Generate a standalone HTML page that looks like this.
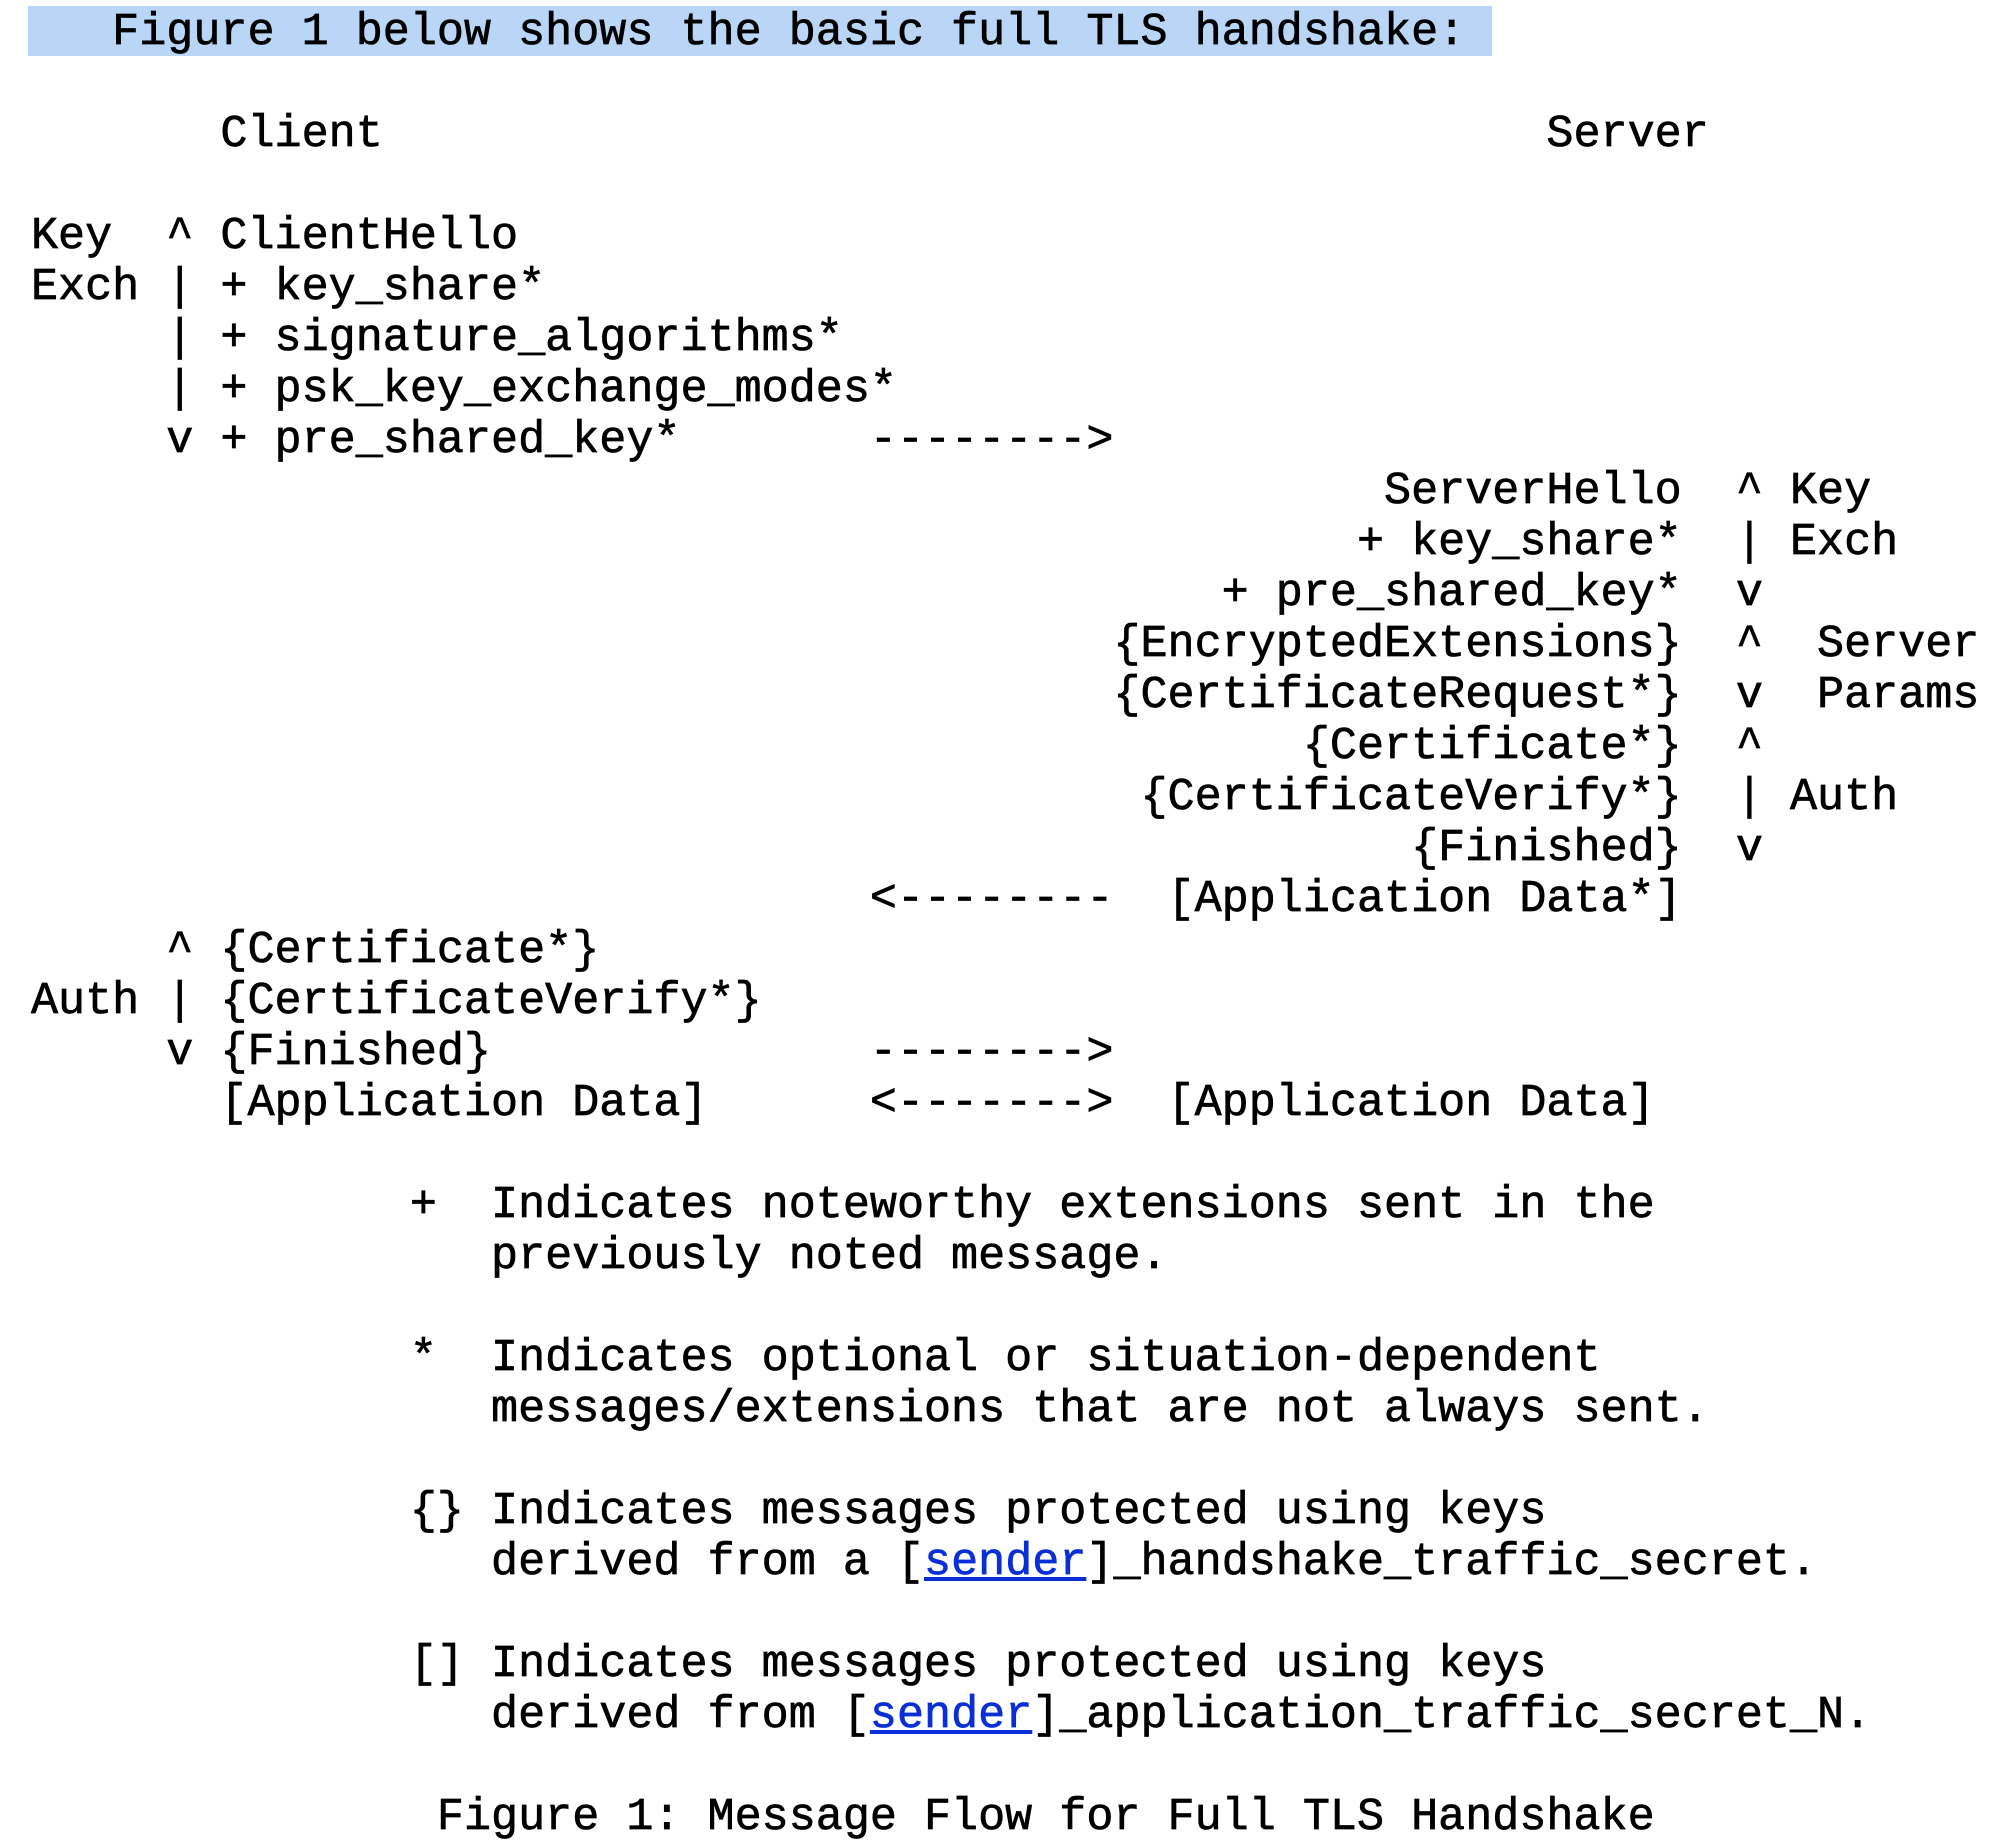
<!DOCTYPE html>
<html><head><meta charset="utf-8"><style>
html,body{margin:0;padding:0;background:#fff;width:1998px;height:1848px;overflow:hidden;position:relative}
.hl{position:absolute;left:28px;top:6px;width:1464px;height:50px;background:#b9d6f7}
pre{position:absolute;left:31px;top:7px;margin:0;font-family:"Liberation Mono",monospace;font-size:45.1px;line-height:51px;color:#000;-webkit-text-stroke:0.7px #000}
a{color:#0b2fd6;text-decoration:underline;-webkit-text-stroke:0.7px #0b2fd6}
</style></head><body>
<div class="hl"></div>
<pre>   Figure 1 below shows the basic full TLS handshake:

       Client                                           Server

Key  ^ ClientHello
Exch | + key_share*
     | + signature_algorithms*
     | + psk_key_exchange_modes*
     v + pre_shared_key*       -------->
                                                  ServerHello  ^ Key
                                                 + key_share*  | Exch
                                            + pre_shared_key*  v
                                        {EncryptedExtensions}  ^  Server
                                        {CertificateRequest*}  v  Params
                                               {Certificate*}  ^
                                         {CertificateVerify*}  | Auth
                                                   {Finished}  v
                               &lt;--------  [Application Data*]
     ^ {Certificate*}
Auth | {CertificateVerify*}
     v {Finished}              -------->
       [Application Data]      &lt;-------&gt;  [Application Data]

              +  Indicates noteworthy extensions sent in the
                 previously noted message.

              *  Indicates optional or situation-dependent
                 messages/extensions that are not always sent.

              {} Indicates messages protected using keys
                 derived from a [<a>sender</a>]_handshake_traffic_secret.

              [] Indicates messages protected using keys
                 derived from [<a>sender</a>]_application_traffic_secret_N.

               Figure 1: Message Flow for Full TLS Handshake</pre>
</body></html>
